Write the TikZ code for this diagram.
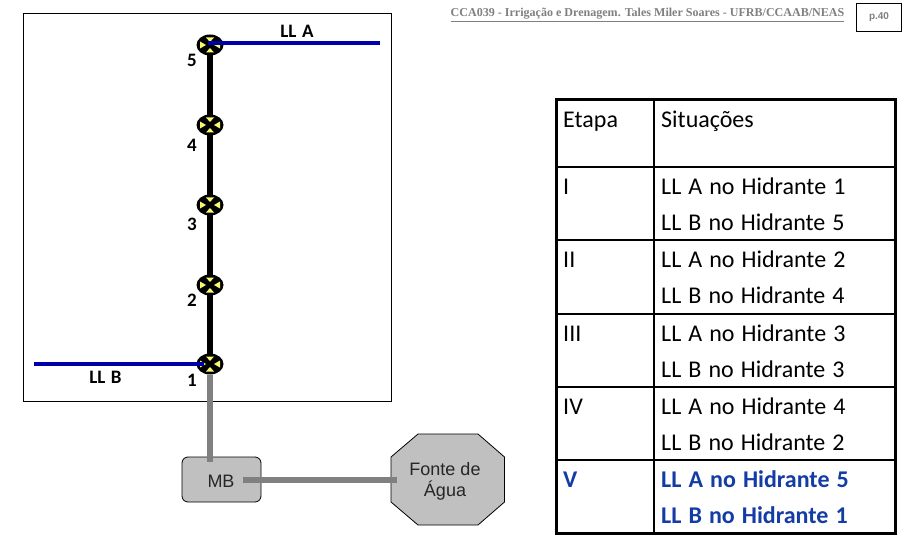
\documentclass[tikz,border=0pt]{standalone}
\usepackage{fontspec}
\setmainfont{Carlito}
\newfontfamily\cellf[WordSpace=1.3]{Carlito}
\newfontfamily\latf[WordSpace=1.3]{Carlito}
\newfontfamily\arialf{Liberation Sans}
\newfontfamily\timesf{Liberation Serif}
\usetikzlibrary{shapes.geometric,calc}
\definecolor{bluepipe}{RGB}{0,0,170}
\definecolor{tblue}{RGB}{20,60,165}
\definecolor{boxgray}{RGB}{192,192,192}
\definecolor{pipegray}{RGB}{128,128,128}
\definecolor{hy}{RGB}{250,250,110}
\tikzset{
  x=1pt,y=-1pt,
  hydrant/.style={ellipse,fill=black,minimum width=27pt,minimum height=21pt,inner sep=0pt},
  num/.style={font=\latf\fontsize{19}{19}\selectfont\bfseries,text=black,inner sep=0pt},
  lat/.style={font=\latf\fontsize{19}{19}\selectfont\bfseries,text=black,inner sep=0pt},
  cell/.style={anchor=base west,font=\cellf\fontsize{24}{24}\selectfont,text=black,inner sep=0pt},
  cellb/.style={cell,font=\cellf\fontsize{24}{24}\selectfont\bfseries,text=tblue},
  grayshape/.style={draw=black,line width=0.8pt,fill=boxgray},
  graytext/.style={font=\arialf\fontsize{18}{21}\selectfont,text=black!85,align=center,inner sep=0pt},
}
\newcommand{\yellowmarks}[1]{%
  \fill[hy] ($(#1)+(-10,-3.5)$) -- ($(#1)+(-4,0)$) -- ($(#1)+(-10,3.5)$) -- cycle;
  \fill[hy] ($(#1)+(10,-3.5)$) -- ($(#1)+(4,0)$) -- ($(#1)+(10,3.5)$) -- cycle;
  \fill[hy] ($(#1)+(-4,-7.5)$) -- ($(#1)+(0,-3)$) -- ($(#1)+(4,-7.5)$) -- cycle;
  \fill[hy] ($(#1)+(-4,7.5)$) -- ($(#1)+(0,3)$) -- ($(#1)+(4,7.5)$) -- cycle;
}
\begin{document}
\begin{tikzpicture}
\useasboundingbox (0,0) rectangle (907,540);
\fill[white] (0,0) rectangle (907,540);
\draw[line width=1pt] (23,14) rectangle (391,401);

\node[hydrant] (h5) at (210,45) {};
\node[hydrant] (h4) at (210,125) {};
\node[hydrant] (h3) at (210,205) {};
\node[hydrant] (h2) at (210,285) {};
\node[hydrant] (h1) at (210,364) {};
\draw[line width=6pt] (h5.center) -- (h4.center) -- (h3.center) -- (h2.center) -- (h1.center);
\foreach \n in {h5,h4,h3,h2,h1}{\yellowmarks{\n}}

\node[grayshape,rounded corners=6pt,minimum width=79pt,minimum height=45pt,inner sep=0pt] (mb) at (221.5,479.5) {};
\node[graytext] (mbt) at (221,481) {MB};
\draw[grayshape] (418,434) -- (478,434) -- (504.5,457) -- (504.5,502) -- (478,525) -- (418,525) -- (391,502) -- (391,457) -- cycle;
\node[graytext] (fontetxt) at (445,481) {Fonte de\\Água};

\coordinate (mbtop) at (210,462);
\coordinate (mbright) at (243,480);
\coordinate (fonteleft) at (397,480);
\coordinate (lla) at (380,43);
\coordinate (llb) at (34,364);
\coordinate (h5e) at (208,43);
\coordinate (h1e) at (204,364);
\draw[pipegray,line width=6pt] (h1.south) -- (mbtop);
\draw[pipegray,line width=6pt] (mbright) -- (fonteleft);
\draw[bluepipe,line width=4pt] (h5e) -- (lla);
\draw[bluepipe,line width=4pt] (llb) -- (h1e);

\node[lat] (a) at (297,31) {LL A};
\node[lat] (b) at (105.5,377) {LL B};
\node[num] (n5) at (192,60) {5};
\node[num] (n4) at (192,145) {4};
\node[num] (n3) at (192,224) {3};
\node[num] (n2) at (192,300) {2};
\node[num] (n1) at (192,380) {1};

\node[inner sep=0pt,font=\timesf\bfseries\fontsize{12.05}{14}\selectfont,text=pipegray] (head) at (647.5,15) {\underline{CCA039 - Irrigação e Drenagem. Tales Miler Soares - UFRB/CCAAB/NEAS}};
\node[draw=black,line width=0.8pt,minimum width=45pt,minimum height=28pt,inner sep=0pt,font=\arialf\bfseries\fontsize{10}{12}\selectfont,text=pipegray] (pg) at (879,17.5) {p.40};

% table
\draw[line width=3pt] (556,100) rectangle (895,533);
\draw[line width=2pt] (654,100) -- (654,533);
\foreach \y in {167,240,314,387,460}{\draw[line width=2pt] (556,\y) -- (895,\y);}

\node[cell] (e0) at (563,128) {Etapa};
\node[cell] (s0) at (661,128) {Situações};
\node[cell] (e1) at (563,194) {I};
\node[cell] (s1a) at (661,194) {LL A no Hidrante 1};
\node[cell] (s1b) at (661,230) {LL B no Hidrante 5};
\node[cell] (e2) at (563,267) {II};
\node[cell] (s2a) at (661,267) {LL A no Hidrante 2};
\node[cell] (s2b) at (661,303) {LL B no Hidrante 4};
\node[cell] (e3) at (563,341) {III};
\node[cell] (s3a) at (661,341) {LL A no Hidrante 3};
\node[cell] (s3b) at (661,377) {LL B no Hidrante 3};
\node[cell] (e4) at (563,414) {IV};
\node[cell] (s4a) at (661,414) {LL A no Hidrante 4};
\node[cell] (s4b) at (661,450) {LL B no Hidrante 2};
\node[cellb] (e5) at (563,487) {V};
\node[cellb] (s5a) at (661,487) {LL A no Hidrante 5};
\node[cellb] (s5b) at (661,523) {LL B no Hidrante 1};
\end{tikzpicture}
\end{document}
